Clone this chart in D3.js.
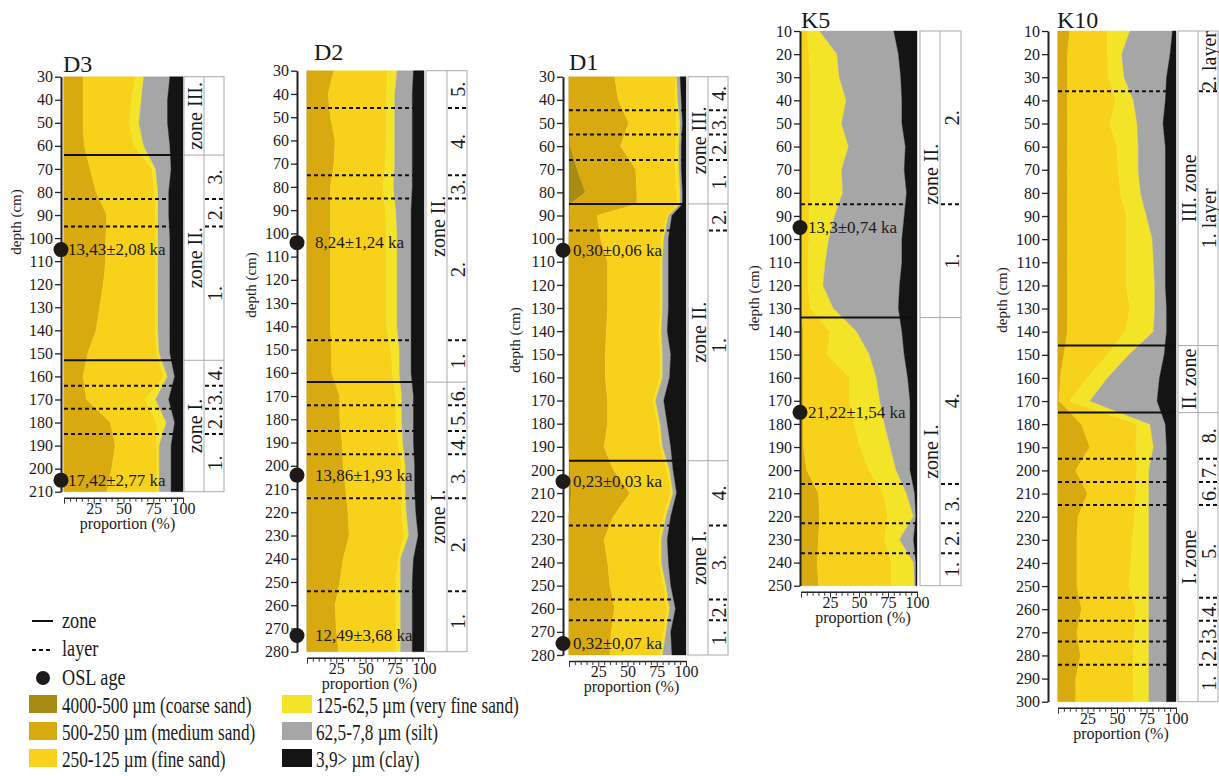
<!DOCTYPE html>
<html>
<head>
<meta charset="utf-8">
<script src="https://cdn.jsdelivr.net/npm/d3@7/dist/d3.min.js"></script>
<style>
  body { margin: 0; background: #fff; }
  svg text { font-family: "Liberation Serif", "Times New Roman", serif; fill: #1a1a1a; }
</style>
</head>
<body>
<svg id="chart" width="1219" height="776"></svg>
<script>
const FRACTIONS = ['coarse', 'medium', 'fine', 'vfine', 'silt', 'clay'];
const FRACTION_LABELS = [
  '4000-500 µm (coarse sand)', '500-250 µm (medium sand)', '250-125 µm (fine sand)',
  '125-62,5 µm (very fine sand)', '62,5-7,8 µm (silt)', '3,9> µm (clay)'
];
const COLORS = ['#a88b12', '#d8aa10', '#f8d21a', '#f4e428', '#a6a6a6', '#141414'];
const X_TICKS = [25, 50, 75, 100];

// ---- D3 ----
const D3_DEPTH  = [30, 40, 50, 60, 70, 80, 90, 100, 110, 120, 130, 140, 150, 160, 170, 180, 190, 200, 210];
const D3_COARSE = [0, 0, 0, 0, 0, 0, 0, 0, 0, 0, 0, 0, 0, 0, 0, 0, 0, 0, 0];
const D3_MEDIUM = [16, 16, 16, 17, 22, 27, 36, 35, 35, 33, 30, 27, 20, 16, 19, 39, 43, 40, 36];
const D3_FINE   = [44, 41, 39, 42, 52, 49, 41, 42, 42, 44, 47, 50, 58, 68, 49, 39, 35, 38, 42];
const D3_VFINE  = [7, 8, 8, 8, 3, 3, 2, 2, 2, 2, 2, 2, 2, 3, 9, 8, 2, 2, 2];
const D3_SILT   = [22, 22, 24, 22, 13, 9, 9, 10, 10, 10, 10, 10, 9, 6, 11, 7, 10, 10, 10];
const D3_CLAY   = [11, 13, 13, 11, 10, 12, 12, 11, 11, 11, 11, 11, 11, 7, 12, 7, 10, 10, 10];
const D3_ZONES  = [[30, 64, 'zone III.'], [64, 153, 'zone II.'], [153, 210, 'zone I.']];
const D3_LAYERS = [[64, 83, '3.'], [83, 95, '2.'], [95, 153, '1.'], [153, 164, '4.'], [164, 174, '3.'], [174, 185, '2.'], [185, 210, '1.']];
const D3_OSL    = [[105, '13,43±2,08 ka'], [205, '17,42±2,77 ka']];

// ---- D2 ----
const D2_DEPTH  = [30, 40, 50, 60, 70, 80, 90, 100, 110, 120, 130, 140, 150, 160, 170, 180, 190, 200, 210, 220, 230, 240, 250, 260, 270, 280];
const D2_COARSE = [0, 0, 0, 0, 0, 0, 0, 0, 0, 0, 0, 0, 0, 0, 0, 0, 0, 0, 0, 0, 0, 0, 0, 0, 0, 0];
const D2_MEDIUM = [23, 18, 20, 24, 23, 20, 20, 20, 20, 20, 20, 20, 21, 21, 28, 28, 30, 31, 33, 35, 36, 31, 28, 24, 25, 27];
const D2_FINE   = [46, 50, 48, 44, 44, 45, 47, 48, 48, 48, 48, 48, 51, 52, 48, 48, 48, 50, 48, 46, 47, 47, 48, 52, 51, 49];
const D2_VFINE  = [8, 7, 7, 7, 8, 9, 9, 9, 9, 9, 9, 9, 7, 6, 5, 5, 4, 3, 3, 4, 4, 2, 4, 4, 4, 4];
const D2_SILT   = [14, 15, 15, 15, 15, 16, 13, 12, 12, 12, 12, 12, 10, 10, 10, 10, 9, 8, 8, 8, 8, 11, 10, 10, 10, 10];
const D2_CLAY   = [9, 10, 10, 10, 10, 10, 11, 11, 11, 11, 11, 11, 11, 11, 9, 9, 9, 8, 8, 7, 5, 9, 10, 10, 10, 10];
const D2_ZONES  = [[30, 164, 'zone II.'], [164, 280, 'zone I.']];
const D2_LAYERS = [[30, 46, '5.'], [46, 75, '4.'], [75, 85, '3.'], [85, 146, '2.'], [146, 164, '1.'],
                   [164, 174, '6.'], [174, 185, '5.'], [185, 195, '4.'], [195, 214, '3.'], [214, 254, '2.'], [254, 280, '1.']];
const D2_OSL    = [[104, '8,24±1,24 ka'], [204, '13,86±1,93 ka'], [273, '12,49±3,68 ka']];

// ---- D1 ----
const D1_DEPTH  = [30, 40, 50, 60, 70, 80, 85, 90, 100, 110, 120, 130, 140, 150, 160, 170, 180, 190, 200, 210, 220, 230, 240, 250, 260, 270, 280];
const D1_COARSE = [0, 0, 0, 1, 7, 14, 1, 1, 0, 0, 0, 0, 0, 0, 0, 0, 0, 0, 1, 2, 0, 0, 0, 0, 0, 0, 0];
const D1_MEDIUM = [39, 42, 51, 43, 50, 44, 57, 23, 27, 33, 33, 33, 32, 31, 31, 33, 33, 30, 37, 50, 38, 30, 33, 35, 39, 36, 35];
const D1_FINE   = [52, 49, 41, 47, 34, 34, 35, 60, 52, 45, 45, 45, 45, 47, 47, 39, 43, 48, 46, 35, 43, 47, 44, 46, 45, 45, 43];
const D1_VFINE  = [1, 2, 3, 3, 3, 3, 2, 1, 2, 2, 2, 2, 2, 2, 2, 2, 2, 2, 2, 2, 2, 2, 2, 2, 2, 2, 2];
const D1_SILT   = [3, 3, 2, 2, 2, 2, 2, 3, 4, 5, 5, 5, 5, 7, 6, 7, 6, 7, 3, 3, 4, 5, 6, 4, 5, 4, 8];
const D1_CLAY   = [5, 4, 3, 4, 4, 3, 3, 12, 15, 15, 15, 15, 16, 13, 14, 19, 16, 13, 11, 8, 13, 16, 15, 13, 9, 13, 12];
const D1_ZONES  = [[30, 85, 'zone III.'], [85, 196, 'zone II.'], [196, 280, 'zone I.']];
const D1_LAYERS = [[30, 44.5, '4.'], [44.5, 55, '3.'], [55, 66, '2.'], [66, 85, '1.'], [85, 96.5, '2.'], [96.5, 196, '1.'],
                   [196, 224, '4.'], [224, 256, '3.'], [256, 265, '2.'], [265, 280, '1.']];
const D1_OSL    = [[105, '0,30±0,06 ka'], [205, '0,23±0,03 ka'], [275, '0,32±0,07 ka']];

// ---- K5 ----
const K5_DEPTH  = [10, 20, 30, 40, 50, 60, 70, 80, 90, 100, 110, 120, 130, 140, 150, 160, 170, 180, 190, 200, 210, 220, 230, 240, 250];
const K5_COARSE = [0, 0, 0, 0, 0, 0, 0, 0, 0, 0, 0, 0, 0, 0, 0, 0, 0, 0, 0, 0, 0, 0, 0, 0, 0];
const K5_MEDIUM = [0, 0, 0, 0, 0, 0, 0, 0, 0, 0, 0, 0, 0, 2, 2, 2, 2, 2, 2, 5, 15, 16, 15, 14, 15];
const K5_FINE   = [5, 7, 8, 8, 8, 8, 8, 8, 7, 7, 6, 6, 8, 23, 21, 40, 40, 44, 49, 54, 56, 59, 57, 64, 63];
const K5_VFINE  = [11, 24, 25, 31, 27, 33, 27, 28, 22, 17, 15, 13, 20, 23, 36, 23, 26, 26, 26, 23, 20, 22, 13, 19, 20];
const K5_SILT   = [64, 53, 53, 48, 52, 49, 54, 55, 60, 63, 66, 66, 56, 39, 30, 27, 26, 22, 17, 12, 7, 2, 12, 2, 1];
const K5_CLAY   = [20, 16, 14, 13, 13, 10, 11, 9, 11, 13, 13, 15, 16, 13, 11, 8, 6, 6, 6, 6, 2, 1, 3, 1, 1];
const K5_ZONES  = [[10, 134, 'zone II.'], [134, 250, 'zone I.']];
const K5_LAYERS = [[10, 85, '2.'], [85, 134, '1.'], [134, 206, '4.'], [206, 223, '3.'], [223, 236, '2.'], [236, 250, '1.']];
const K5_OSL    = [[95, '13,3±0,74 ka'], [175, '21,22±1,54 ka']];

// ---- K10 ----
const K10_DEPTH  = [10, 20, 30, 40, 50, 60, 70, 80, 90, 100, 110, 120, 130, 140, 150, 160, 170, 180, 190, 200, 210, 220, 230, 240, 250, 260, 270, 280, 290, 300];
const K10_COARSE = [0, 0, 0, 0, 0, 0, 0, 0, 0, 0, 0, 0, 0, 0, 0, 0, 0, 0, 0, 0, 0, 0, 0, 0, 0, 0, 0, 0, 0, 0];
const K10_MEDIUM = [10, 8, 8, 8, 8, 8, 8, 8, 8, 8, 8, 8, 8, 8, 5, 2, 1, 20, 27, 15, 25, 17, 16, 16, 16, 20, 16, 19, 15, 15];
const K10_FINE   = [32, 34, 35, 41, 36, 42, 43, 45, 50, 50, 50, 50, 53, 49, 37, 23, 9, 47, 39, 52, 41, 48, 47, 46, 44, 46, 49, 45, 49, 49];
const K10_VFINE  = [19, 12, 13, 15, 23, 18, 17, 17, 17, 22, 23, 24, 21, 24, 18, 17, 17, 11, 15, 10, 11, 12, 14, 15, 17, 11, 12, 13, 13, 13];
const K10_SILT   = [36, 41, 36, 27, 22, 23, 23, 21, 16, 11, 10, 9, 10, 11, 30, 44, 57, 13, 11, 15, 15, 15, 15, 15, 15, 15, 15, 15, 15, 15];
const K10_CLAY   = [3, 5, 8, 9, 11, 9, 9, 9, 9, 9, 9, 9, 8, 8, 10, 14, 16, 9, 8, 8, 8, 8, 8, 8, 8, 8, 8, 8, 8, 8];
const K10_ZONES  = [[10, 146, 'III. zone'], [146, 175, 'II. zone'], [175, 300, 'I. zone']];
const K10_LAYERS = [[10, 36, '2. layer'], [36, 146, '1. layer'], [175, 195, '8.'], [195, 205, '7.'], [205, 215, '6.'],
                    [215, 255, '5.'], [255, 265, '4.'], [265, 274, '3.'], [274, 284, '2.'], [284, 300, '1.']];
const K10_OSL    = [];

const cores = [
  { name: 'D3', depth: D3_DEPTH, values: [D3_COARSE, D3_MEDIUM, D3_FINE, D3_VFINE, D3_SILT, D3_CLAY], zones: D3_ZONES, layers: D3_LAYERS, osl: D3_OSL },
  { name: 'D2', depth: D2_DEPTH, values: [D2_COARSE, D2_MEDIUM, D2_FINE, D2_VFINE, D2_SILT, D2_CLAY], zones: D2_ZONES, layers: D2_LAYERS, osl: D2_OSL },
  { name: 'D1', depth: D1_DEPTH, values: [D1_COARSE, D1_MEDIUM, D1_FINE, D1_VFINE, D1_SILT, D1_CLAY], zones: D1_ZONES, layers: D1_LAYERS, osl: D1_OSL },
  { name: 'K5', depth: K5_DEPTH, values: [K5_COARSE, K5_MEDIUM, K5_FINE, K5_VFINE, K5_SILT, K5_CLAY], zones: K5_ZONES, layers: K5_LAYERS, osl: K5_OSL },
  { name: 'K10', depth: K10_DEPTH, values: [K10_COARSE, K10_MEDIUM, K10_FINE, K10_VFINE, K10_SILT, K10_CLAY], zones: K10_ZONES, layers: K10_LAYERS, osl: K10_OSL }
];

// panel geometry (pixels)
const layout = [
  { axisX: 61,   x0: 64,   x1: 183,  yTop: 76.7, yBot: 491.7, zx0: 184,  zx1: 204,  lx1: 224,  tx: 63,   ty: 72, dlx: 16,   dly: 222, oslDx: 7 },
  { axisX: 297,  x0: 307,  x1: 424,  yTop: 70.7, yBot: 651.7, zx0: 426,  zx1: 447,  lx1: 467,  tx: 314,  ty: 60, dlx: 251,  dly: 285, oslDx: 18 },
  { axisX: 563,  x0: 569,  x1: 686,  yTop: 76.7, yBot: 655,   zx0: 688,  zx1: 708,  lx1: 728,  tx: 569,  ty: 70, dlx: 515,  dly: 340, oslDx: 10 },
  { axisX: 800,  x0: 801,  x1: 917,  yTop: 31,   yBot: 585.7, zx0: 920,  zx1: 940,  lx1: 961,  tx: 801,  ty: 28, dlx: 754,  dly: 298, oslDx: 8 },
  { axisX: 1048, x0: 1058, x1: 1176, yTop: 31,   yBot: 701.7, zx0: 1178, zx1: 1198, lx1: 1218, tx: 1057, ty: 28, dlx: 1002, dly: 300, oslDx: 8 }
];

const svg = d3.select('#chart');

function drawCore(core, p) {
  const rows = core.depth.map((d, i) => {
    const r = { depth: d };
    FRACTIONS.forEach((f, k) => { r[f] = core.values[k][i]; });
    return r;
  });
  const series = d3.stack().keys(FRACTIONS)(rows);

  const y = d3.scaleLinear()
    .domain([core.depth[0], core.depth[core.depth.length - 1]])
    .range([p.yTop, p.yBot]);
  const x = d3.scaleLinear().domain([0, 100]).range([p.x0, p.x1]);

  const g = svg.append('g').attr('class', 'core');

  const area = d3.area()
    .y(d => y(d.data.depth))
    .x0(d => x(d[0]))
    .x1(d => x(d[1]));

  g.selectAll('path.frac')
    .data(series)
    .join('path')
    .attr('class', 'frac')
    .attr('fill', (d, i) => COLORS[i])
    .attr('stroke', (d, i) => COLORS[i])
    .attr('stroke-width', 0.4)
    .attr('d', area);

  // zone and layer columns
  const cols = g.append('g');
  cols.append('rect')
    .attr('x', p.zx0).attr('y', p.yTop)
    .attr('width', p.lx1 - p.zx0).attr('height', p.yBot - p.yTop)
    .attr('fill', '#fff').attr('stroke', '#aaa').attr('stroke-width', 1);
  cols.append('line')
    .attr('x1', p.zx1).attr('x2', p.zx1).attr('y1', p.yTop).attr('y2', p.yBot)
    .attr('stroke', '#aaa').attr('stroke-width', 1);

  const bounds = core.zones.slice(1).map(z => z[0]);
  cols.selectAll('line.zb')
    .data(bounds)
    .join('line')
    .attr('class', 'zb')
    .attr('x1', p.zx0).attr('x2', p.lx1)
    .attr('y1', d => y(d)).attr('y2', d => y(d))
    .attr('stroke', '#aaa').attr('stroke-width', 1);

  // solid zone lines across the plot
  g.selectAll('line.zone')
    .data(bounds)
    .join('line')
    .attr('class', 'zone')
    .attr('x1', p.x0).attr('x2', p.x1)
    .attr('y1', d => y(d)).attr('y2', d => y(d))
    .attr('stroke', '#111').attr('stroke-width', 2);

  // dashed layer lines
  const layerBounds = core.layers.map(l => l[0]).filter(d => !bounds.includes(d) && d !== core.depth[0]);
  g.selectAll('line.layer')
    .data(layerBounds)
    .join('line')
    .attr('class', 'layer')
    .attr('x1', p.x0).attr('x2', p.x1 - 1)
    .attr('y1', d => y(d)).attr('y2', d => y(d))
    .attr('stroke', '#111').attr('stroke-width', 2).attr('stroke-dasharray', '4,3');
  g.selectAll('line.layer2')
    .data(layerBounds)
    .join('line')
    .attr('class', 'layer2')
    .attr('x1', p.zx1 + 1).attr('x2', p.lx1)
    .attr('y1', d => y(d)).attr('y2', d => y(d))
    .attr('stroke', '#111').attr('stroke-width', 2).attr('stroke-dasharray', '4,3');

  // zone labels
  g.selectAll('text.zl')
    .data(core.zones)
    .join('text')
    .attr('class', 'zl')
    .attr('transform', d => `translate(${(p.zx0 + p.zx1) / 2 + 1},${(y(d[0]) + y(d[1])) / 2}) rotate(-90)`)
    .attr('text-anchor', 'middle')
    .attr('dominant-baseline', 'central')
    .attr('font-size', 20)
    .text(d => d[2]);

  g.selectAll('text.ll')
    .data(core.layers)
    .join('text')
    .attr('class', 'll')
    .attr('transform', d => `translate(${(p.zx1 + p.lx1) / 2 + 1},${(y(d[0]) + y(d[1])) / 2}) rotate(-90)`)
    .attr('text-anchor', 'middle')
    .attr('dominant-baseline', 'central')
    .attr('font-size', 20)
    .text(d => d[2]);

  // y axis
  const [d0, d1] = y.domain();
  const yAxis = d3.axisLeft(y)
    .tickValues(d3.range(d0, d1 + 1, 10))
    .tickSize(6)
    .tickSizeOuter(0)
    .tickPadding(2);
  const ya = g.append('g')
    .attr('transform', `translate(${p.axisX},0)`)
    .call(yAxis);
  ya.select('.domain').attr('stroke', '#222').attr('stroke-width', 2);
  ya.selectAll('.tick line').attr('stroke', '#222').attr('stroke-width', 1.3);
  ya.selectAll('.tick text').attr('font-size', 16).attr('fill', '#1a1a1a');

  // x axis
  const xAxis = d3.axisBottom(x)
    .tickValues(d3.range(0, 101, 5))
    .tickSize(4)
    .tickSizeOuter(0)
    .tickPadding(3)
    .tickFormat(d => X_TICKS.includes(d) ? d : '');
  const xa = g.append('g')
    .attr('transform', `translate(0,${p.yBot + 6})`)
    .call(xAxis);
  xa.select('.domain').attr('stroke', '#222').attr('stroke-width', 1.5);
  xa.selectAll('.tick line').attr('stroke', '#333').attr('stroke-width', 1)
    .attr('y2', d => d % 25 === 0 ? 6 : 4);
  xa.selectAll('.tick text').attr('font-size', 16).attr('fill', '#1a1a1a').attr('y', 5);

  g.append('text')
    .attr('x', (p.x0 + p.x1) / 2 + 4)
    .attr('y', p.yBot + 37)
    .attr('text-anchor', 'middle')
    .attr('font-size', 16)
    .text('proportion (%)');

  g.append('text')
    .attr('transform', `translate(${p.dlx},${p.dly}) rotate(-90)`)
    .attr('text-anchor', 'middle')
    .attr('dominant-baseline', 'central')
    .attr('font-size', 15)
    .text('depth (cm)');

  g.append('text')
    .attr('x', p.tx).attr('y', p.ty)
    .attr('font-size', 24)
    .text(core.name);

  // OSL ages
  const osl = g.selectAll('g.osl')
    .data(core.osl)
    .join('g')
    .attr('class', 'osl')
    .attr('transform', d => `translate(${p.axisX},${y(d[0])})`);
  osl.append('circle').attr('r', 7.5).attr('fill', '#1e1a1a');
  osl.append('text')
    .attr('x', p.oslDx)
    .attr('dominant-baseline', 'central')
    .attr('font-size', 17)
    .text(d => d[1]);
}

cores.forEach((c, i) => drawCore(c, layout[i]));

// legend
const lg = svg.append('g').attr('class', 'legend');
lg.append('line').attr('x1', 32).attr('x2', 53).attr('y1', 621).attr('y2', 621)
  .attr('stroke', '#111').attr('stroke-width', 2);
lg.append('line').attr('x1', 32).attr('x2', 53).attr('y1', 650).attr('y2', 650)
  .attr('stroke', '#111').attr('stroke-width', 2).attr('stroke-dasharray', '4,3');
lg.append('circle').attr('cx', 43).attr('cy', 678).attr('r', 7).attr('fill', '#1e1a1a');
const markLabels = [['zone', 628], ['layer', 656], ['OSL age', 685]];
lg.selectAll('text.mark')
  .data(markLabels)
  .join('text')
  .attr('class', 'mark')
  .attr('transform', d => `translate(62,${d[1]}) scale(0.76,1)`)
  .attr('font-size', 24)
  .text(d => d[0]);

const legendItems = FRACTION_LABELS.map((label, i) => ({ label, color: COLORS[i], col: i < 3 ? 0 : 1, row: i % 3 }));
const li = lg.selectAll('g.item')
  .data(legendItems)
  .join('g')
  .attr('class', 'item')
  .attr('transform', d => `translate(${d.col === 0 ? 29 : 282},${695 + d.row * 27})`);
li.append('rect').attr('width', d => d.col === 0 ? 28 : 30).attr('height', 18).attr('fill', d => d.color);
li.append('text')
  .attr('transform', d => `translate(${d.col === 0 ? 33 : 34},18) scale(0.75,1)`)
  .attr('font-size', 23)
  .text(d => d.label);
</script>
</body>
</html>
